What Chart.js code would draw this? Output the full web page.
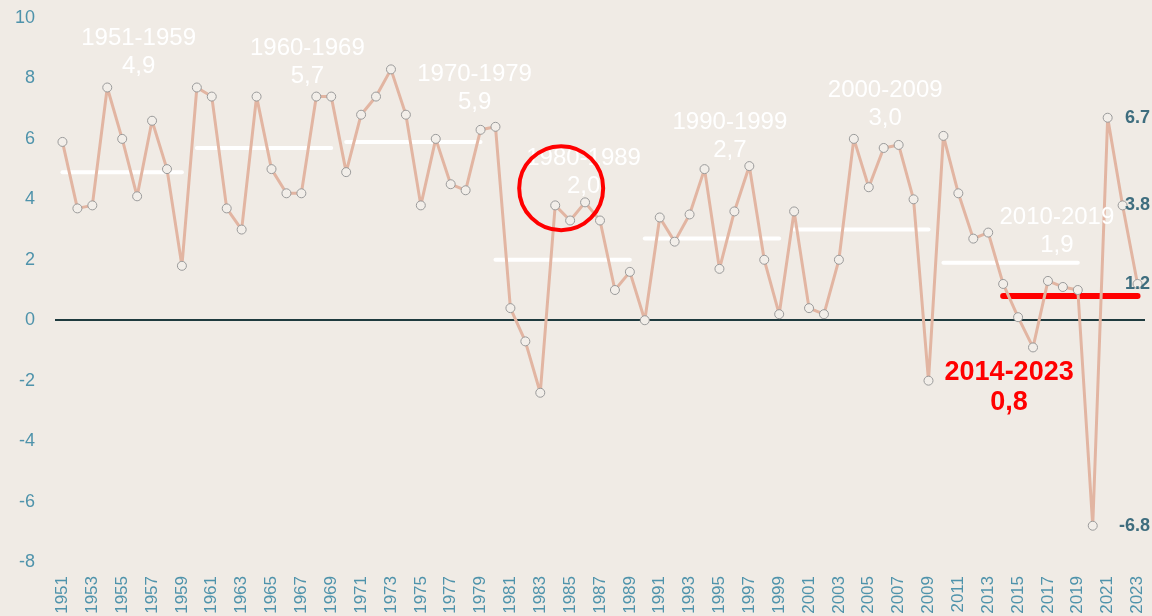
<!DOCTYPE html>
<html>
<head>
<meta charset="utf-8">
<script src="https://cdn.jsdelivr.net/npm/chart.js@4/dist/chart.umd.min.js"></script>
<style>
  html, body { margin: 0; padding: 0; background: #f0ebe5; overflow: hidden; width: 1152px; height: 616px; }
  canvas { display: block; }
</style>
</head>
<body>
<canvas id="myChart" width="1152" height="640"></canvas>
<script>
// Years and yearly values
const years = [];
for (let y = 1951; y <= 2023; y++) years.push(String(y));

const values = [
  5.9, 3.7, 3.8, 7.7, 6.0, 4.1, 6.6, 5.0, 1.8,
  7.7, 7.4, 3.7, 3.0, 7.4, 5.0, 4.2, 4.2, 7.4, 7.4,
  4.9, 6.8, 7.4, 8.3, 6.8, 3.8, 6.0, 4.5, 4.3, 6.3,
  6.4, 0.4, -0.7, -2.4, 3.8, 3.3, 3.9, 3.3, 1.0, 1.6,
  0.0, 3.4, 2.6, 3.5, 5.0, 1.7, 3.6, 5.1, 2.0, 0.2,
  3.6, 0.4, 0.2, 2.0, 6.0, 4.4, 5.7, 5.8, 4.0, -2.0,
  6.1, 4.2, 2.7, 2.9, 1.2, 0.1, -0.9, 1.3, 1.1, 1.0,
  -6.8, 6.7, 3.8, 1.2
];

// Period averages
const periodNames = ['1951-1959', '1960-1969', '1970-1979', '1980-1989', '1990-1999', '2000-2009', '2010-2019'];
const periodFrom  = [1951, 1960, 1970, 1980, 1990, 2000, 2010];
const periodTo    = [1959, 1969, 1979, 1989, 1999, 2009, 2019];
const periodMeans = [4.9, 5.7, 5.9, 2.0, 2.7, 3.0, 1.9];

const recentName = '2014-2023';
const recentFrom = 2014;
const recentTo = 2023;
const recentMean = 0.8;

const endLabelYears = ['2020', '2021', '2022', '2023'];

const yTicks = [-8, -6, -4, -2, 0, 2, 4, 6, 8, 10];

function spanData(from, to, v) {
  return years.map(y => (+y >= from && +y <= to) ? v : null);
}

const fontFamily = '"Liberation Sans", Arial, sans-serif';

const datasets = [{
  label: 'values',
  data: values,
  borderColor: '#e2b5a2',
  borderWidth: 3,
  borderJoinStyle: 'round',
  pointRadius: 4.5,
  pointBackgroundColor: '#f2eee9',
  pointBorderColor: '#9a9a9a',
  pointBorderWidth: 1,
  tension: 0,
  order: 0
}];
periodNames.forEach((n, i) => {
  datasets.push({
    label: n,
    data: spanData(periodFrom[i], periodTo[i], periodMeans[i]),
    borderColor: '#ffffff',
    borderWidth: 4,
    borderCapStyle: 'round',
    pointRadius: 0,
    order: 2
  });
});
datasets.push({
  label: recentName,
  data: spanData(recentFrom, recentTo, recentMean),
  borderColor: '#ff0000',
  borderWidth: 6,
  borderCapStyle: 'round',
  pointRadius: 0,
  order: 1
});

// where the text annotations sit, in data units (index, value)
const periodLabelAt = [[5.1, 9.34], [16.4, 9.0], [27.6, 8.15], [34.9, 5.36], [44.7, 6.56], [55.1, 7.6], [66.6, 3.41]];
const recentLabelAt = [63.4, -1.72];
const circleAt = [33.4, 4.37];

const notes = {
  id: 'notes',
  afterDatasetsDraw(chart) {
    const ctx = chart.ctx;
    const xs = chart.scales.x, ys = chart.scales.y;
    ctx.save();
    ctx.textAlign = 'center';
    ctx.textBaseline = 'middle';
    // period labels
    ctx.fillStyle = '#ffffff';
    ctx.font = '24px ' + fontFamily;
    periodNames.forEach((n, i) => {
      const px = xs.getPixelForValue(periodLabelAt[i][0]);
      const py = ys.getPixelForValue(periodLabelAt[i][1]);
      ctx.fillText(n, px, py);
      ctx.fillText(periodMeans[i].toFixed(1).replace('.', ','), px, py + 28);
    });
    // recent period label
    ctx.fillStyle = '#ff0000';
    ctx.font = 'bold 27px ' + fontFamily;
    const rx = xs.getPixelForValue(recentLabelAt[0]);
    const ry = ys.getPixelForValue(recentLabelAt[1]);
    ctx.fillText(recentName, rx, ry);
    ctx.fillText(recentMean.toFixed(1).replace('.', ','), rx, ry + 30);
    // circle
    ctx.strokeStyle = '#ff0000';
    ctx.lineWidth = 4;
    ctx.beginPath();
    ctx.arc(xs.getPixelForValue(circleAt[0]), ys.getPixelForValue(circleAt[1]), 42, 0, Math.PI * 2);
    ctx.stroke();
    // end value labels
    ctx.fillStyle = '#3e6d7e';
    ctx.font = 'bold 18px ' + fontFamily;
    ctx.textAlign = 'right';
    endLabelYears.forEach(y => {
      const i = years.indexOf(y);
      ctx.fillText(values[i].toFixed(1), chart.width - 2, ys.getPixelForValue(values[i]));
    });
    ctx.restore();
  }
};

const ctx = document.getElementById('myChart').getContext('2d');
new Chart(ctx, {
  type: 'line',
  data: { labels: years, datasets: datasets },
  options: {
    responsive: false,
    animation: false,
    spanGaps: false,
    layout: { padding: { top: 18, right: 7, left: 0, bottom: 0 } },
    plugins: { legend: { display: false }, tooltip: { enabled: false } },
    scales: {
      x: {
        offset: true,
        grid: { display: false, drawTicks: false },
        border: { display: false },
        afterFit: s => { s.height = 78; s.paddingLeft = 0; s.paddingRight = 0; },
        ticks: {
          autoSkip: false,
          maxRotation: 90,
          minRotation: 90,
          padding: 14,
          color: '#4f93ab',
          font: { size: 17, family: fontFamily },
          callback: function (v, i) { return i % 2 === 0 ? this.getLabelForValue(v) : ''; }
        }
      },
      y: {
        min: -8,
        max: 10,
        afterFit: s => { s.width = 55; s.paddingTop = 0; s.paddingBottom = 0; },
        afterBuildTicks: s => { s.ticks = yTicks.map(v => ({ value: v })); },
        grid: {
          drawTicks: false,
          lineWidth: c => c.tick && c.tick.value === 0 ? 2 : 0,
          color: c => c.tick && c.tick.value === 0 ? '#1e3a3e' : 'rgba(0,0,0,0)'
        },
        border: { display: false },
        ticks: {
          padding: 20,
          color: '#4f93ab',
          font: { size: 18, family: fontFamily }
        }
      }
    }
  },
  plugins: [notes]
});
</script>
</body>
</html>
